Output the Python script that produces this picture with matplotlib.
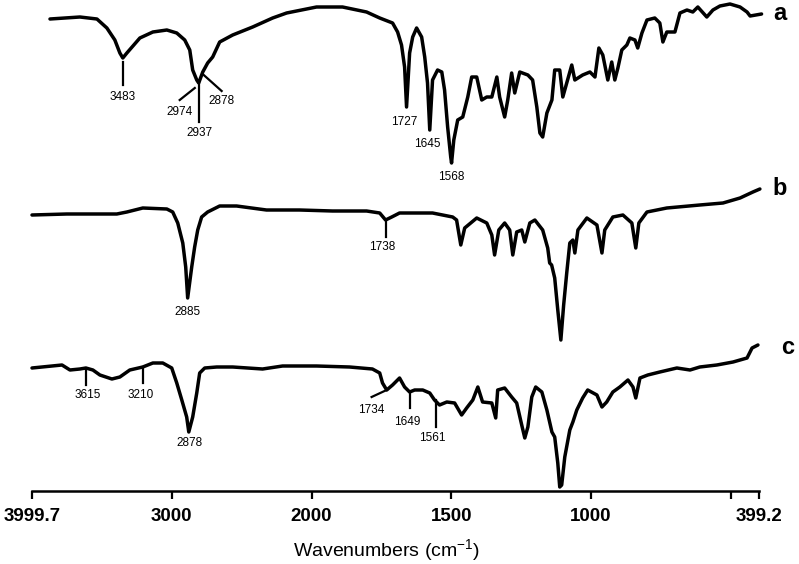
import numpy as np
import matplotlib
matplotlib.use('Agg')
import matplotlib.pyplot as plt

plt.rcParams['font.family'] = ['Liberation Sans', 'DejaVu Sans']
plt.rcParams['mathtext.default'] = 'regular'

# spectrum a (stacked, arbitrary units)
a_wn = [3871, 3657, 3535, 3464, 3407, 3371, 3350, 3321, 3228, 3135,
        3035, 2964, 2907, 2871, 2850, 2821, 2807, 2778, 2743, 2707,
        2657, 2564, 2421, 2278, 2178, 1982, 1889, 1803, 1756, 1710,
        1692, 1678, 1667, 1660, 1649, 1638, 1624, 1606, 1595, 1585,
        1577, 1567, 1549, 1534, 1524, 1513, 1502, 1499, 1491, 1477,
        1459, 1441, 1427, 1409, 1391, 1373, 1355, 1337, 1327, 1309,
        1298, 1284, 1273, 1255, 1226, 1209, 1194, 1183, 1173, 1158,
        1140, 1130, 1112, 1101, 1087, 1069, 1058, 1030, 1004, 986,
        972, 958, 940, 926, 915, 904, 890, 872, 861, 843,
        833, 818, 800, 772, 754, 743, 729, 700, 682, 657,
        636, 618, 586, 564, 539, 503, 467, 442, 431, 390]
a_t = [472, 474, 472, 463, 451, 438, 433, 438, 453, 459,
       461, 458, 451, 441, 421, 411, 408, 419, 428, 434,
       449, 456, 464, 473, 478, 484, 484, 479, 473, 468,
       459, 446, 424, 384, 438, 454, 463, 454, 434, 408,
       361, 411, 421, 419, 401, 364, 334, 328, 351, 371,
       374, 394, 414, 414, 391, 394, 394, 414, 394, 374,
       391, 418, 398, 419, 416, 411, 384, 358, 354, 378,
       391, 421, 421, 394, 408, 426, 411, 416, 419, 414,
       443, 436, 411, 429, 411, 423, 441, 446, 453, 451,
       443, 458, 471, 473, 468, 449, 459, 459, 478, 481,
       479, 484, 474, 481, 485, 487, 484, 479, 475, 477]

# spectrum b
b_wn = [3999.7, 3750, 3393, 3321, 3207, 3035, 2993, 2957, 2921, 2900,
        2886, 2857, 2836, 2814, 2786, 2743, 2657, 2536, 2322, 2086,
        1925, 1803, 1756, 1735, 1713, 1685, 1567, 1495, 1481, 1466,
        1452, 1409, 1373, 1355, 1345, 1330, 1309, 1291, 1280, 1266,
        1248, 1237, 1219, 1201, 1173, 1155, 1148, 1141, 1130, 1119,
        1108, 1098, 1087, 1076, 1065, 1058, 1047, 1015, 979, 961,
        951, 922, 886, 854, 840, 829, 800, 729, 611, 528,
        467, 421, 396]
b_t = [276, 277, 277, 279, 283, 282, 279, 268, 248, 224,
       193, 224, 244, 261, 274, 279, 285, 285, 281, 281,
       280, 280, 278, 271, 274, 278, 278, 274, 271, 246,
       263, 273, 268, 256, 236, 261, 268, 261, 236, 259,
       261, 249, 268, 271, 261, 243, 228, 226, 213, 181,
       151, 186, 218, 248, 251, 238, 261, 273, 266, 238,
       261, 274, 276, 268, 243, 268, 279, 283, 286, 288,
       293, 299, 302]

# spectrum c
c_wn = [3999.7, 3785, 3728, 3657, 3614, 3564, 3514, 3428, 3371, 3300,
        3207, 3135, 3064, 3000, 2964, 2928, 2893, 2878, 2850, 2821,
        2800, 2764, 2678, 2564, 2350, 2207, 1982, 1864, 1782, 1756,
        1746, 1731, 1710, 1685, 1667, 1649, 1631, 1602, 1577, 1560,
        1542, 1516, 1488, 1463, 1445, 1423, 1405, 1388, 1355, 1341,
        1334, 1309, 1284, 1266, 1248, 1237, 1226, 1212, 1198, 1176,
        1158, 1140, 1130, 1119, 1112, 1105, 1094, 1076, 1065, 1051,
        1030, 1012, 979, 961, 944, 922, 897, 868, 850, 840,
        825, 797, 754, 693, 646, 611, 550, 492, 442, 424,
        403]
c_t = [123, 126, 121, 122, 123, 121, 116, 112, 114, 121,
       124, 128, 128, 123, 108, 91, 74, 59, 74, 98,
       118, 123, 124, 124, 122, 125, 125, 124, 122, 118,
       108, 101, 106, 113, 104, 99, 101, 101, 98, 91,
       86, 89, 88, 76, 83, 91, 104, 89, 88, 73,
       101, 103, 94, 88, 66, 53, 64, 94, 104, 99,
       81, 59, 54, 28, 4, 6, 34, 61, 69, 81,
       93, 101, 96, 84, 89, 99, 104, 111, 104, 93,
       113, 116, 119, 123, 121, 124, 126, 129, 133, 143,
       146]

tick_vals = [3999.7, 3000, 2000, 1500, 1000, 500, 399.2]
tick_text = ['3999.7', '3000', '2000', '1500', '1000', '', '399.2']

# peak annotations: text, label position, marker line
peaks = [
    ('3483', 3350, 394, [3350, 3350], [429, 406]),
    ('2974', 2943, 379, [2835, 2943], [403, 391]),
    ('2937', 2800, 358, [2807, 2807], [408, 369]),
    ('2878', 2643, 390, [2771, 2643], [416, 400]),
    ('1727', 1667, 369, None, None),
    ('1645', 1585, 347, None, None),
    ('1568', 1499, 314, None, None),
    ('2885', 2886, 179, None, None),
    ('1738', 1746, 244, [1735, 1735], [271, 254]),
    ('3615', 3600, 96, [3614, 3614], [121, 106]),
    ('3210', 3221, 96, [3207, 3207], [124, 108]),
    ('2878', 2871, 48, None, None),
    ('1734', 1785, 81, [1731, 1785], [101, 94]),
    ('1649', 1656, 69, [1649, 1649], [99, 83]),
    ('1561', 1567, 53, [1556, 1556], [91, 64]),
]


def fwd(w):
    w = np.asarray(w, dtype=float)
    return np.where(w >= 2000, w, 2 * w - 2000)


def inv(p):
    p = np.asarray(p, dtype=float)
    return np.where(p >= 2000, p, (p + 2000) / 2)


fig = plt.figure(figsize=(7.99, 5.64), dpi=100)
ax = fig.add_axes([32 / 799, 73 / 564, 727 / 799, 491 / 564])
ax.set_xscale('function', functions=(fwd, inv))

for wn, t in [(a_wn, a_t), (b_wn, b_t), (c_wn, c_t)]:
    ax.plot(wn, t, color='black', lw=2.5, solid_joinstyle='round',
            solid_capstyle='round', clip_on=False)

for txt, lx, ly, seg_x, seg_y in peaks:
    if seg_x is not None:
        ax.plot(seg_x, seg_y, color='black', lw=1.6, clip_on=False)
    ax.text(lx, ly, txt, ha='center', va='center', fontsize=8.5)

for name, wx, wy in [('a', 324, 478), ('b', 324, 303), ('c', 295, 144)]:
    ax.text(wx, wy, name, ha='center', va='center', fontsize=17,
            fontweight='bold')

ax.set_xlim(3999.7, 399.2)
ax.set_ylim(0, 491)
ax.set_xticks(tick_vals)
ax.set_xticklabels(tick_text, fontsize=13.5, fontweight='bold')
ax.xaxis.set_minor_locator(matplotlib.ticker.NullLocator())
ax.tick_params(axis='x', direction='out', length=6, width=1.6, pad=6)
ax.set_yticks([])
for s in ['left', 'right', 'top']:
    ax.spines[s].set_visible(False)
ax.spines['bottom'].set_linewidth(1.8)
ax.patch.set_visible(False)

fig.text(387 / 799, 1 - 550 / 564, r'Wavenumbers (cm$^{-1}$)',
         ha='center', va='center', fontsize=14)

fig.savefig('out.png', dpi=100)
